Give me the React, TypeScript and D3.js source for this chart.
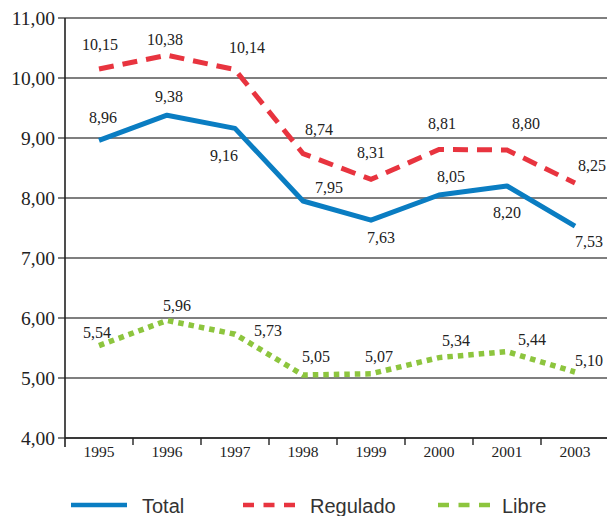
import React from "react";
import * as d3 from "d3";

const years = ["1995", "1996", "1997", "1998", "1999", "2000", "2001", "2003"];
const total = [8.96, 9.38, 9.16, 7.95, 7.63, 8.05, 8.2, 7.53];
const regulado = [10.15, 10.38, 10.14, 8.74, 8.31, 8.81, 8.8, 8.25];
const libre = [5.54, 5.96, 5.73, 5.05, 5.07, 5.34, 5.44, 5.1];
const yTicks = [4, 5, 6, 7, 8, 9, 10, 11];

// label offsets [dx, dy(baseline)] relative to each point
const totalOff = [[4, -17], [2, -13], [-11, 33], [26, -8], [10, 23], [12, -13], [0, 32], [14, 21]];
const regOff = [[1, -19], [-2, -10], [12, -17], [16, -19], [0, -21], [3, -20], [19, -21], [17, -12]];
const libreOff = [[-2, -8], [10, -9], [33, 2], [13, -13], [8, -12], [17, -12], [25, -7], [14, -6]];

const fmt = (v: number) => v.toFixed(2).replace(".", ",");

export default function App() {
  const W = 607, H = 516;
  const left = 65, right = 609, top = 18, bottom = 438;
  const x = d3.scaleBand<string>().domain(years).range([left, right]);
  const y = d3.scaleLinear().domain([4, 11]).range([bottom, top]);
  const cx = (yr: string) => (x(yr) as number) + x.bandwidth() / 2;
  const line = d3
    .line<number>()
    .x((_, i) => cx(years[i]))
    .y((d) => y(d));

  const serif = "Liberation Serif";
  const sans = "Liberation Sans";

  const labels = (vals: number[], off: number[][]) =>
    vals.map((v, i) => (
      <text
        key={i}
        x={cx(years[i]) + off[i][0]}
        y={y(v) + off[i][1]}
        textAnchor="middle"
        style={{ fontFamily: serif, fontSize: "16px" }}
        fill="#222"
      >
        {fmt(v)}
      </text>
    ));

  return (
    <svg width={W} height={H} style={{ position: "absolute", left: 0, top: 0 }}>
      <rect width={W} height={H} fill="#fff" />
      {yTicks.map((t) => (
        <g key={t}>
          <line x1={left - 7} x2={W} y1={y(t)} y2={y(t)} stroke="#555" strokeWidth={1.5} />
          <text
            x={left - 10}
            y={y(t) + 6.5}
            textAnchor="end"
            style={{ fontFamily: serif, fontSize: "19.5px" }}
            fill="#222"
          >
            {fmt(t)}
          </text>
        </g>
      ))}
      <line x1={left} x2={left} y1={top} y2={bottom + 9} stroke="#222" strokeWidth={1.6} />
      <line x1={left} x2={W} y1={bottom} y2={bottom} stroke="#222" strokeWidth={1.6} />
      {years.slice(1).map((yr) => (
        <line
          key={yr}
          x1={x(yr) as number}
          x2={x(yr) as number}
          y1={bottom}
          y2={bottom + 7}
          stroke="#222"
          strokeWidth={1.4}
        />
      ))}
      {years.map((yr) => (
        <text
          key={yr}
          x={cx(yr)}
          y={bottom + 19}
          textAnchor="middle"
          style={{ fontFamily: serif, fontSize: "15.5px" }}
          fill="#222"
        >
          {yr}
        </text>
      ))}
      <path d={line(regulado) || ""} fill="none" stroke="#e8343f" strokeWidth={5} strokeDasharray="15,9" />
      <path d={line(total) || ""} fill="none" stroke="#0a7dc2" strokeWidth={5} strokeLinejoin="round" />
      <path d={line(libre) || ""} fill="none" stroke="#8dc53e" strokeWidth={5.5} strokeDasharray="5.5,5" />
      {labels(total, totalOff)}
      {labels(regulado, regOff)}
      {labels(libre, libreOff)}
      <g>
        <line x1={71} x2={127} y1={505} y2={505} stroke="#0a7dc2" strokeWidth={4.5} />
        <text x={142} y={513} style={{ fontFamily: sans, fontSize: "20px" }} fill="#333">Total</text>
        <line x1={243} x2={295} y1={505} y2={505} stroke="#e8343f" strokeWidth={4.5} strokeDasharray="11,9.5" />
        <text x={310} y={513} style={{ fontFamily: sans, fontSize: "20px" }} fill="#333">Regulado</text>
        <line x1={438} x2={490} y1={505} y2={505} stroke="#8dc53e" strokeWidth={4.5} strokeDasharray="11,9.5" />
        <text x={502} y={513} style={{ fontFamily: sans, fontSize: "20px" }} fill="#333">Libre</text>
      </g>
    </svg>
  );
}
